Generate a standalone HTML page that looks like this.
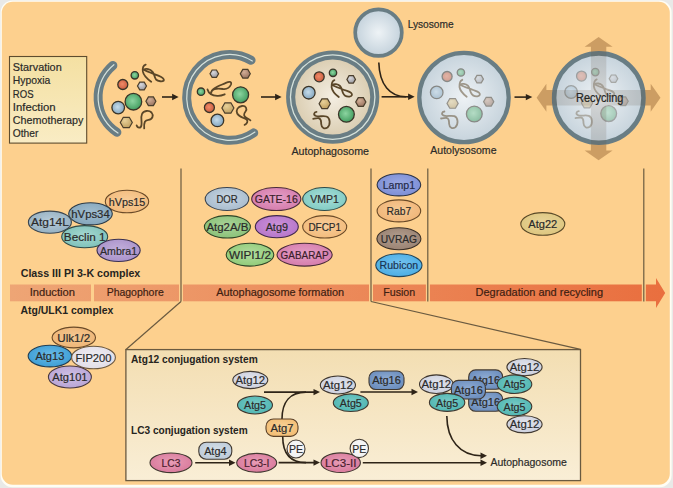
<!DOCTYPE html><html><head><meta charset="utf-8"><style>html,body{margin:0;padding:0;background:#e9e9e7;overflow:hidden}svg{display:block;font-family:"Liberation Sans", sans-serif}</style></head><body><svg width="673" height="488" viewBox="0 0 673 488" font-family='"Liberation Sans", sans-serif'><defs><linearGradient id="stim" x1="0" y1="0" x2="0" y2="1"><stop offset="0" stop-color="#f4e0a2"/><stop offset="1" stop-color="#f9ecc4"/></linearGradient><radialGradient id="g1" cx="45%" cy="45%" r="60%"><stop offset="0" stop-color="#8cd4a0"/><stop offset="1" stop-color="#3e9a5c"/></radialGradient><radialGradient id="g2" cx="45%" cy="45%" r="60%"><stop offset="0" stop-color="#f08a68"/><stop offset="1" stop-color="#c85a3c"/></radialGradient><radialGradient id="g3" cx="38%" cy="32%" r="70%"><stop offset="0" stop-color="#d8d8dc"/><stop offset="1" stop-color="#9a9aa0"/></radialGradient><radialGradient id="g4" cx="45%" cy="45%" r="60%"><stop offset="0" stop-color="#8cd4a0"/><stop offset="1" stop-color="#3e9a5c"/></radialGradient><radialGradient id="g5" cx="45%" cy="45%" r="60%"><stop offset="0" stop-color="#c6dcea"/><stop offset="1" stop-color="#7fa2bc"/></radialGradient><radialGradient id="g6" cx="38%" cy="32%" r="70%"><stop offset="0" stop-color="#d2ae96"/><stop offset="1" stop-color="#9a7460"/></radialGradient><radialGradient id="g7" cx="38%" cy="32%" r="70%"><stop offset="0" stop-color="#e8d098"/><stop offset="1" stop-color="#c0a060"/></radialGradient><radialGradient id="g8" cx="38%" cy="32%" r="70%"><stop offset="0" stop-color="#d8d8dc"/><stop offset="1" stop-color="#9a9aa0"/></radialGradient><radialGradient id="g9" cx="38%" cy="32%" r="70%"><stop offset="0" stop-color="#d2ae96"/><stop offset="1" stop-color="#9a7460"/></radialGradient><radialGradient id="g10" cx="45%" cy="45%" r="60%"><stop offset="0" stop-color="#8cd4a0"/><stop offset="1" stop-color="#3e9a5c"/></radialGradient><radialGradient id="g11" cx="45%" cy="45%" r="60%"><stop offset="0" stop-color="#8cd4a0"/><stop offset="1" stop-color="#3e9a5c"/></radialGradient><radialGradient id="g12" cx="45%" cy="45%" r="60%"><stop offset="0" stop-color="#f08a68"/><stop offset="1" stop-color="#c85a3c"/></radialGradient><radialGradient id="g13" cx="38%" cy="32%" r="70%"><stop offset="0" stop-color="#e8d098"/><stop offset="1" stop-color="#c0a060"/></radialGradient><radialGradient id="g14" cx="45%" cy="45%" r="60%"><stop offset="0" stop-color="#c6dcea"/><stop offset="1" stop-color="#7fa2bc"/></radialGradient><radialGradient id="g15" cx="50%" cy="50%" r="50%"><stop offset="0" stop-color="#f4eee2"/><stop offset="1" stop-color="#dccfb4"/></radialGradient><radialGradient id="g16" cx="45%" cy="45%" r="60%"><stop offset="0" stop-color="#f08a68"/><stop offset="1" stop-color="#c85a3c"/></radialGradient><radialGradient id="g17" cx="45%" cy="45%" r="60%"><stop offset="0" stop-color="#8cd4a0"/><stop offset="1" stop-color="#3e9a5c"/></radialGradient><radialGradient id="g18" cx="38%" cy="32%" r="70%"><stop offset="0" stop-color="#d8d8dc"/><stop offset="1" stop-color="#9a9aa0"/></radialGradient><radialGradient id="g19" cx="45%" cy="45%" r="60%"><stop offset="0" stop-color="#c6dcea"/><stop offset="1" stop-color="#7fa2bc"/></radialGradient><radialGradient id="g20" cx="38%" cy="32%" r="70%"><stop offset="0" stop-color="#e8d098"/><stop offset="1" stop-color="#c0a060"/></radialGradient><radialGradient id="g21" cx="38%" cy="32%" r="70%"><stop offset="0" stop-color="#d2ae96"/><stop offset="1" stop-color="#9a7460"/></radialGradient><radialGradient id="g22" cx="45%" cy="45%" r="60%"><stop offset="0" stop-color="#8cd4a0"/><stop offset="1" stop-color="#3e9a5c"/></radialGradient><radialGradient id="g23" cx="50%" cy="50%" r="50%"><stop offset="0" stop-color="#eef3f6"/><stop offset="1" stop-color="#c4d2dc"/></radialGradient><radialGradient id="g24" cx="50%" cy="50%" r="50%"><stop offset="0" stop-color="#eef2f5"/><stop offset="1" stop-color="#c6d3dc"/></radialGradient><radialGradient id="g25" cx="45%" cy="45%" r="60%"><stop offset="0" stop-color="#f08a68"/><stop offset="1" stop-color="#c85a3c"/></radialGradient><radialGradient id="g26" cx="45%" cy="45%" r="60%"><stop offset="0" stop-color="#8cd4a0"/><stop offset="1" stop-color="#3e9a5c"/></radialGradient><radialGradient id="g27" cx="38%" cy="32%" r="70%"><stop offset="0" stop-color="#d8d8dc"/><stop offset="1" stop-color="#9a9aa0"/></radialGradient><radialGradient id="g28" cx="45%" cy="45%" r="60%"><stop offset="0" stop-color="#c6dcea"/><stop offset="1" stop-color="#7fa2bc"/></radialGradient><radialGradient id="g29" cx="38%" cy="32%" r="70%"><stop offset="0" stop-color="#e8d098"/><stop offset="1" stop-color="#c0a060"/></radialGradient><radialGradient id="g30" cx="38%" cy="32%" r="70%"><stop offset="0" stop-color="#d2ae96"/><stop offset="1" stop-color="#9a7460"/></radialGradient><radialGradient id="g31" cx="45%" cy="45%" r="60%"><stop offset="0" stop-color="#8cd4a0"/><stop offset="1" stop-color="#3e9a5c"/></radialGradient><radialGradient id="g32" cx="50%" cy="50%" r="50%"><stop offset="0" stop-color="#eef2f5"/><stop offset="1" stop-color="#c6d3dc"/></radialGradient><radialGradient id="g33" cx="45%" cy="45%" r="60%"><stop offset="0" stop-color="#f08a68"/><stop offset="1" stop-color="#c85a3c"/></radialGradient><radialGradient id="g34" cx="45%" cy="45%" r="60%"><stop offset="0" stop-color="#8cd4a0"/><stop offset="1" stop-color="#3e9a5c"/></radialGradient><radialGradient id="g35" cx="38%" cy="32%" r="70%"><stop offset="0" stop-color="#d8d8dc"/><stop offset="1" stop-color="#9a9aa0"/></radialGradient><radialGradient id="g36" cx="45%" cy="45%" r="60%"><stop offset="0" stop-color="#c6dcea"/><stop offset="1" stop-color="#7fa2bc"/></radialGradient><radialGradient id="g37" cx="38%" cy="32%" r="70%"><stop offset="0" stop-color="#e8d098"/><stop offset="1" stop-color="#c0a060"/></radialGradient><radialGradient id="g38" cx="38%" cy="32%" r="70%"><stop offset="0" stop-color="#d2ae96"/><stop offset="1" stop-color="#9a7460"/></radialGradient><radialGradient id="g39" cx="45%" cy="45%" r="60%"><stop offset="0" stop-color="#8cd4a0"/><stop offset="1" stop-color="#3e9a5c"/></radialGradient><clipPath id="inC"><circle cx="598.8" cy="98.1" r="47"/></clipPath><mask id="outC" maskUnits="userSpaceOnUse" x="0" y="0" width="673" height="488"><rect x="0" y="0" width="673" height="488" fill="#fff"/><circle cx="598.8" cy="98.1" r="47" fill="#000"/></mask><linearGradient id="band" x1="0" y1="0" x2="673" y2="0" gradientUnits="userSpaceOnUse"><stop offset="0" stop-color="#eea676"/><stop offset="1" stop-color="#e96e3e"/></linearGradient><linearGradient id="boxg" x1="0" y1="0" x2="0" y2="1"><stop offset="0" stop-color="#f3deb2"/><stop offset="1" stop-color="#f9eed6"/></linearGradient><radialGradient id="g40" cx="50%" cy="45%" r="60%"><stop offset="0" stop-color="#f8cd99"/><stop offset="1" stop-color="#f2ba7a"/></radialGradient><radialGradient id="g41" cx="50%" cy="45%" r="60%"><stop offset="0" stop-color="#a2bed0"/><stop offset="1" stop-color="#82a4ba"/></radialGradient><radialGradient id="g42" cx="50%" cy="45%" r="60%"><stop offset="0" stop-color="#b8ccd9"/><stop offset="1" stop-color="#92aec0"/></radialGradient><radialGradient id="g43" cx="50%" cy="45%" r="60%"><stop offset="0" stop-color="#a6d8d1"/><stop offset="1" stop-color="#7cc0b8"/></radialGradient><radialGradient id="g44" cx="50%" cy="45%" r="60%"><stop offset="0" stop-color="#c2afdb"/><stop offset="1" stop-color="#a890c8"/></radialGradient><radialGradient id="g45" cx="50%" cy="45%" r="60%"><stop offset="0" stop-color="#f5c892"/><stop offset="1" stop-color="#eeb474"/></radialGradient><radialGradient id="g46" cx="50%" cy="45%" r="60%"><stop offset="0" stop-color="#6abae6"/><stop offset="1" stop-color="#3a9cd4"/></radialGradient><radialGradient id="g47" cx="50%" cy="45%" r="60%"><stop offset="0" stop-color="#f0eef3"/><stop offset="1" stop-color="#e0dce6"/></radialGradient><radialGradient id="g48" cx="50%" cy="45%" r="60%"><stop offset="0" stop-color="#d0c1e5"/><stop offset="1" stop-color="#b6a2d4"/></radialGradient><radialGradient id="g49" cx="50%" cy="45%" r="60%"><stop offset="0" stop-color="#c8d6e3"/><stop offset="1" stop-color="#a6bacc"/></radialGradient><radialGradient id="g50" cx="50%" cy="45%" r="60%"><stop offset="0" stop-color="#e59fc6"/><stop offset="1" stop-color="#d47aaa"/></radialGradient><radialGradient id="g51" cx="50%" cy="45%" r="60%"><stop offset="0" stop-color="#a9ded8"/><stop offset="1" stop-color="#7ecac2"/></radialGradient><radialGradient id="g52" cx="50%" cy="45%" r="60%"><stop offset="0" stop-color="#aad499"/><stop offset="1" stop-color="#88c076"/></radialGradient><radialGradient id="g53" cx="50%" cy="45%" r="60%"><stop offset="0" stop-color="#cc92da"/><stop offset="1" stop-color="#b474c8"/></radialGradient><radialGradient id="g54" cx="50%" cy="45%" r="60%"><stop offset="0" stop-color="#f8cd99"/><stop offset="1" stop-color="#f2ba7a"/></radialGradient><radialGradient id="g55" cx="50%" cy="45%" r="60%"><stop offset="0" stop-color="#b2dc9f"/><stop offset="1" stop-color="#8eca76"/></radialGradient><radialGradient id="g56" cx="50%" cy="45%" r="60%"><stop offset="0" stop-color="#e59fc6"/><stop offset="1" stop-color="#d47aaa"/></radialGradient><radialGradient id="g57" cx="50%" cy="45%" r="60%"><stop offset="0" stop-color="#9caae4"/><stop offset="1" stop-color="#7a8cd4"/></radialGradient><radialGradient id="g58" cx="50%" cy="45%" r="60%"><stop offset="0" stop-color="#f6ca96"/><stop offset="1" stop-color="#f0b476"/></radialGradient><radialGradient id="g59" cx="50%" cy="45%" r="60%"><stop offset="0" stop-color="#b29e8f"/><stop offset="1" stop-color="#988070"/></radialGradient><radialGradient id="g60" cx="50%" cy="45%" r="60%"><stop offset="0" stop-color="#77c4ef"/><stop offset="1" stop-color="#48acE4"/></radialGradient><radialGradient id="g61" cx="50%" cy="45%" r="60%"><stop offset="0" stop-color="#e9d69b"/><stop offset="1" stop-color="#dcc47c"/></radialGradient><radialGradient id="g62" cx="50%" cy="45%" r="60%"><stop offset="0" stop-color="#e3e5ed"/><stop offset="1" stop-color="#cacedc"/></radialGradient><radialGradient id="g63" cx="50%" cy="45%" r="60%"><stop offset="0" stop-color="#7acbc7"/><stop offset="1" stop-color="#4cb4b0"/></radialGradient><radialGradient id="g64" cx="50%" cy="45%" r="60%"><stop offset="0" stop-color="#f9d297"/><stop offset="1" stop-color="#f2bc72"/></radialGradient><radialGradient id="g65" cx="50%" cy="45%" r="60%"><stop offset="0" stop-color="#f9f9f9"/><stop offset="1" stop-color="#f0f0f0"/></radialGradient><radialGradient id="g66" cx="50%" cy="45%" r="60%"><stop offset="0" stop-color="#e3e5ed"/><stop offset="1" stop-color="#cacedc"/></radialGradient><radialGradient id="g67" cx="50%" cy="45%" r="60%"><stop offset="0" stop-color="#7acbc7"/><stop offset="1" stop-color="#4cb4b0"/></radialGradient><radialGradient id="g68" cx="50%" cy="45%" r="60%"><stop offset="0" stop-color="#8facd3"/><stop offset="1" stop-color="#6a8cbc"/></radialGradient><radialGradient id="g69" cx="50%" cy="45%" r="60%"><stop offset="0" stop-color="#8facd3"/><stop offset="1" stop-color="#6a8cbc"/></radialGradient><radialGradient id="g70" cx="50%" cy="45%" r="60%"><stop offset="0" stop-color="#8facd3"/><stop offset="1" stop-color="#6a8cbc"/></radialGradient><radialGradient id="g71" cx="50%" cy="45%" r="60%"><stop offset="0" stop-color="#e3e5ed"/><stop offset="1" stop-color="#cacedc"/></radialGradient><radialGradient id="g72" cx="50%" cy="45%" r="60%"><stop offset="0" stop-color="#8facd3"/><stop offset="1" stop-color="#6a8cbc"/></radialGradient><radialGradient id="g73" cx="50%" cy="45%" r="60%"><stop offset="0" stop-color="#7acbc7"/><stop offset="1" stop-color="#4cb4b0"/></radialGradient><radialGradient id="g74" cx="50%" cy="45%" r="60%"><stop offset="0" stop-color="#e3e5ed"/><stop offset="1" stop-color="#cacedc"/></radialGradient><radialGradient id="g75" cx="50%" cy="45%" r="60%"><stop offset="0" stop-color="#7acbc7"/><stop offset="1" stop-color="#4cb4b0"/></radialGradient><radialGradient id="g76" cx="50%" cy="45%" r="60%"><stop offset="0" stop-color="#e3e5ed"/><stop offset="1" stop-color="#cacedc"/></radialGradient><radialGradient id="g77" cx="50%" cy="45%" r="60%"><stop offset="0" stop-color="#7acbc7"/><stop offset="1" stop-color="#4cb4b0"/></radialGradient><radialGradient id="g78" cx="50%" cy="45%" r="60%"><stop offset="0" stop-color="#e89db7"/><stop offset="1" stop-color="#d8789a"/></radialGradient><radialGradient id="g79" cx="50%" cy="45%" r="60%"><stop offset="0" stop-color="#d6e0e9"/><stop offset="1" stop-color="#bccad8"/></radialGradient><radialGradient id="g80" cx="50%" cy="45%" r="60%"><stop offset="0" stop-color="#e89db7"/><stop offset="1" stop-color="#d8789a"/></radialGradient><radialGradient id="g81" cx="50%" cy="45%" r="60%"><stop offset="0" stop-color="#e89db7"/><stop offset="1" stop-color="#d8789a"/></radialGradient><radialGradient id="g82" cx="50%" cy="45%" r="60%"><stop offset="0" stop-color="#f9f9f9"/><stop offset="1" stop-color="#f0f0f0"/></radialGradient></defs><rect x="0" y="0" width="673" height="488" fill="#e9e9e7"/>
<rect x="0.6" y="0.6" width="671" height="486.6" rx="12" fill="#fffdf4"/>
<rect x="1.8" y="1.8" width="668" height="483" rx="11" fill="#fdd08e"/>
<rect x="9.5" y="56.5" width="77.2" height="86.6" fill="url(#stim)" stroke="#5e4c2e" stroke-width="1.1"/>
<text x="12.8" y="71" font-size="11.5" text-anchor="start" font-weight="normal" fill="#2a2a28" textLength="48.9" lengthAdjust="spacingAndGlyphs" stroke="#2a2a28" stroke-width="0.2">Starvation</text>
<text x="12.8" y="84.25" font-size="11.5" text-anchor="start" font-weight="normal" fill="#2a2a28" textLength="37.6" lengthAdjust="spacingAndGlyphs" stroke="#2a2a28" stroke-width="0.2">Hypoxia</text>
<text x="12.8" y="97.5" font-size="11.5" text-anchor="start" font-weight="normal" fill="#2a2a28" textLength="20.7" lengthAdjust="spacingAndGlyphs" stroke="#2a2a28" stroke-width="0.2">ROS</text>
<text x="12.8" y="110.75" font-size="11.5" text-anchor="start" font-weight="normal" fill="#2a2a28" textLength="42.8" lengthAdjust="spacingAndGlyphs" stroke="#2a2a28" stroke-width="0.2">Infection</text>
<text x="12.8" y="124" font-size="11.5" text-anchor="start" font-weight="normal" fill="#2a2a28" textLength="70.5" lengthAdjust="spacingAndGlyphs" stroke="#2a2a28" stroke-width="0.2">Chemotherapy</text>
<text x="12.8" y="137.25" font-size="11.5" text-anchor="start" font-weight="normal" fill="#2a2a28" textLength="25.6" lengthAdjust="spacingAndGlyphs" stroke="#2a2a28" stroke-width="0.2">Other</text>
<path d="M112.86,65.52 A41.8,41.8 0 0 0 116.89,132.3" fill="none" stroke="#697d84" stroke-width="9" stroke-linecap="round"/>
<path d="M113.88,64.69 A41.8,41.8 0 0 0 118,133" fill="none" stroke="#d6e2dc" stroke-width="1.2" stroke-linecap="round"/>
<circle cx="134.8" cy="75.3" r="3.7" fill="url(#g1)" stroke="#3a3428" stroke-width="1.3" opacity="1"/>
<circle cx="122.8" cy="84.5" r="5" fill="url(#g2)" stroke="#3a3428" stroke-width="1.3" opacity="1"/>
<polygon points="146.5,86 144.25,89.9 139.75,89.9 137.5,86 139.75,82.1 144.25,82.1" fill="url(#g3)" stroke="#4a3e2c" stroke-width="1.2" opacity="1"/>
<circle cx="133.4" cy="101.7" r="8.3" fill="url(#g4)" stroke="#3a3428" stroke-width="1.3" opacity="1"/>
<circle cx="118.2" cy="107.6" r="6.3" fill="url(#g5)" stroke="#3a3428" stroke-width="1.3" opacity="1"/>
<polygon points="155.9,101.3 153.4,105.63 148.4,105.63 145.9,101.3 148.4,96.97 153.4,96.97" fill="url(#g6)" stroke="#4a3e2c" stroke-width="1.2" opacity="1"/>
<polygon points="132.3,122.5 129.3,127.7 123.3,127.7 120.3,122.5 123.3,117.3 129.3,117.3" fill="url(#g7)" stroke="#4a3e2c" stroke-width="1.2" opacity="1"/>
<path d="M145.7,64.6 C143,65.5 142.5,69 142.9,71.7 C143.5,75 148,79.5 151.2,81.8" fill="none" stroke="#5a4628" stroke-width="1.8" stroke-linecap="round" stroke-linejoin="round" opacity="1"/>
<path d="M143.8,69.8 C146,68.2 150,69 152.6,71.8 C154.5,74 154.3,77.5 156,79.5 C158,81.5 162.5,81.8 163.8,80.5 C164.5,78.5 161,76.8 158.3,75.7 C153,73.6 147,71.6 143.8,69.8" fill="none" stroke="#5a4628" stroke-width="1.8" stroke-linecap="round" stroke-linejoin="round" opacity="1"/>
<path d="M136.6,125.3 C137.5,128.5 141,128.5 141.5,125 C142,121 140.5,117.5 142,114 C143.5,110.5 149,110 151.5,112.5 C154,115.5 152.5,119.5 148.5,119.8 C145,120 143.8,122 144.2,128.4" fill="none" stroke="#5a4628" stroke-width="1.8" stroke-linecap="round" stroke-linejoin="round" opacity="1"/>
<line x1="162" y1="97" x2="173.1" y2="97" stroke="#2e2418" stroke-width="1.6"/>
<path d="M178.6,97 L172.1,100.2 L172.1,93.8 Z" fill="#2e2418"/>
<path d="M251.05,60.25 A42.9,42.9 0 1 0 253.71,132.88" fill="none" stroke="#697d84" stroke-width="9" stroke-linecap="round"/>
<path d="M252.33,61.02 A42.9,42.9 0 1 0 254.94,132.02" fill="none" stroke="#d6e2dc" stroke-width="1.2" stroke-linecap="round"/>
<polygon points="218.6,73.7 216.45,77.42 212.15,77.42 210,73.7 212.15,69.98 216.45,69.98" fill="url(#g8)" stroke="#4a3e2c" stroke-width="1.2" opacity="1"/>
<polygon points="250.3,73.7 247.8,78.03 242.8,78.03 240.3,73.7 242.8,69.37 247.8,69.37" fill="url(#g9)" stroke="#4a3e2c" stroke-width="1.2" opacity="1"/>
<circle cx="201" cy="91.7" r="3.7" fill="url(#g10)" stroke="#3a3428" stroke-width="1.3" opacity="1"/>
<path d="M207.5,89.4 C208.5,93 212,95.5 217.3,95.8 C220,96 223,95 224.7,94.3" fill="none" stroke="#5a4628" stroke-width="1.8" stroke-linecap="round" stroke-linejoin="round" opacity="1"/>
<path d="M210.8,93.5 C211.5,88 219,86 225.9,82.9 C229,81.5 232,81.3 231,84.5 C229.5,88 226,89.3 223,89 C219,88.5 214,88.3 211.8,90.6" fill="none" stroke="#5a4628" stroke-width="1.8" stroke-linecap="round" stroke-linejoin="round" opacity="1"/>
<circle cx="240.6" cy="94.8" r="8" fill="url(#g11)" stroke="#3a3428" stroke-width="1.3" opacity="1"/>
<circle cx="209.4" cy="107.5" r="5" fill="url(#g12)" stroke="#3a3428" stroke-width="1.3" opacity="1"/>
<polygon points="233.9,108 230.9,113.2 224.9,113.2 221.9,108 224.9,102.8 230.9,102.8" fill="url(#g13)" stroke="#4a3e2c" stroke-width="1.2" opacity="1"/>
<path d="M244.6,124.9 C247,124 248.5,121 246.5,119.5 C244,117.8 239,117 237.2,113.5 C235.5,110 238,106.5 242,106 C246,105.5 247.5,109 245.5,111.5 C243.5,114 243.5,116.5 246.4,117.8 C248,118.8 249.5,119.5 250.4,120.3" fill="none" stroke="#5a4628" stroke-width="1.8" stroke-linecap="round" stroke-linejoin="round" opacity="1"/>
<circle cx="217.4" cy="120.4" r="6.3" fill="url(#g14)" stroke="#3a3428" stroke-width="1.3" opacity="1"/>
<line x1="261" y1="97" x2="276.1" y2="97" stroke="#2e2418" stroke-width="1.6"/>
<path d="M281.6,97 L275.1,100.2 L275.1,93.8 Z" fill="#2e2418"/>
<circle cx="332.7" cy="97.1" r="46.6" fill="#697d84"/>
<circle cx="332.7" cy="97.1" r="42.9" fill="#d6e2dc"/>
<circle cx="332.7" cy="97.1" r="41.6" fill="#697d84"/>
<circle cx="332.7" cy="97.1" r="37.5" fill="url(#g15)"/>
<g transform="translate(0,0)" opacity="1.0">
<circle cx="319.2" cy="76.8" r="5" fill="url(#g16)" stroke="#3a3428" stroke-width="1.3" opacity="1"/>
<circle cx="333" cy="72.8" r="3.7" fill="url(#g17)" stroke="#3a3428" stroke-width="1.3" opacity="1"/>
<polygon points="355.5,79.4 353.35,83.12 349.05,83.12 346.9,79.4 349.05,75.68 353.35,75.68" fill="url(#g18)" stroke="#4a3e2c" stroke-width="1.2" opacity="1"/>
<path d="M334.4,80.1 C332,81 331.5,85 331.6,87.3 C332,90 335.5,94.5 338.8,97" fill="none" stroke="#5a4628" stroke-width="1.8" stroke-linecap="round" stroke-linejoin="round" opacity="1"/>
<path d="M332.1,85 C334,83.5 338,84 340,86 C342,88 342,91 343,93 C344,95.5 347,96.8 349.5,96.6 C352,96.3 352.8,94.5 351.1,92.9 C349.5,91.5 347,91 345.4,90.3 C342,89 337,87.5 332.1,85" fill="none" stroke="#5a4628" stroke-width="1.8" stroke-linecap="round" stroke-linejoin="round" opacity="1"/>
<circle cx="308.8" cy="92.7" r="6.3" fill="url(#g19)" stroke="#3a3428" stroke-width="1.3" opacity="1"/>
<polygon points="330.3,103.7 327.5,108.55 321.9,108.55 319.1,103.7 321.9,98.85 327.5,98.85" fill="url(#g20)" stroke="#4a3e2c" stroke-width="1.2" opacity="1"/>
<polygon points="365.9,102 363.35,106.42 358.25,106.42 355.7,102 358.25,97.58 363.35,97.58" fill="url(#g21)" stroke="#4a3e2c" stroke-width="1.2" opacity="1"/>
<circle cx="346.4" cy="114.3" r="7.9" fill="url(#g22)" stroke="#3a3428" stroke-width="1.3" opacity="1"/>
<path d="M316.5,111.8 C314,112 313,115 316,116 C319,117 323,115.5 326.5,116.5 C330.5,118 330.5,125 327.5,127.5 C324.5,129.5 321.5,128 321.2,124 C321,121 321.5,119 319,118.3 C317,118 315,118.5 313.2,118.8" fill="none" stroke="#5a4628" stroke-width="1.8" stroke-linecap="round" stroke-linejoin="round" opacity="1"/>
</g>
<text x="330.2" y="155" font-size="11.5" text-anchor="middle" font-weight="normal" fill="#2a2a28" textLength="77.5" lengthAdjust="spacingAndGlyphs" stroke="#2a2a28" stroke-width="0.2">Autophagosome</text>
<circle cx="378.5" cy="32.6" r="23.3" fill="url(#g23)" stroke="#697d84" stroke-width="3.7"/>
<text x="407.7" y="27.9" font-size="11.5" text-anchor="start" font-weight="normal" fill="#2a2a28" textLength="45.9" lengthAdjust="spacingAndGlyphs" stroke="#2a2a28" stroke-width="0.2">Lysosome</text>
<path d="M378.8,62.5 C379.5,85 390,96.8 406,96.8" fill="none" stroke="#2e2418" stroke-width="1.6"/>
<line x1="381.6" y1="96.8" x2="409.1" y2="96.8" stroke="#2e2418" stroke-width="1.6"/>
<path d="M414.6,96.8 L408.1,100 L408.1,93.6 Z" fill="#2e2418"/>
<circle cx="464" cy="97.5" r="44.7" fill="url(#g24)" stroke="#697d84" stroke-width="4.3"/>
<g transform="translate(127.9,-0.3)" opacity="0.5">
<circle cx="319.2" cy="76.8" r="5" fill="url(#g25)" stroke="#3a3428" stroke-width="1.3" opacity="1"/>
<circle cx="333" cy="72.8" r="3.7" fill="url(#g26)" stroke="#3a3428" stroke-width="1.3" opacity="1"/>
<polygon points="355.5,79.4 353.35,83.12 349.05,83.12 346.9,79.4 349.05,75.68 353.35,75.68" fill="url(#g27)" stroke="#4a3e2c" stroke-width="1.2" opacity="1"/>
<path d="M334.4,80.1 C332,81 331.5,85 331.6,87.3 C332,90 335.5,94.5 338.8,97" fill="none" stroke="#5a4628" stroke-width="1.8" stroke-linecap="round" stroke-linejoin="round" opacity="1"/>
<path d="M332.1,85 C334,83.5 338,84 340,86 C342,88 342,91 343,93 C344,95.5 347,96.8 349.5,96.6 C352,96.3 352.8,94.5 351.1,92.9 C349.5,91.5 347,91 345.4,90.3 C342,89 337,87.5 332.1,85" fill="none" stroke="#5a4628" stroke-width="1.8" stroke-linecap="round" stroke-linejoin="round" opacity="1"/>
<circle cx="308.8" cy="92.7" r="6.3" fill="url(#g28)" stroke="#3a3428" stroke-width="1.3" opacity="1"/>
<polygon points="330.3,103.7 327.5,108.55 321.9,108.55 319.1,103.7 321.9,98.85 327.5,98.85" fill="url(#g29)" stroke="#4a3e2c" stroke-width="1.2" opacity="1"/>
<polygon points="365.9,102 363.35,106.42 358.25,106.42 355.7,102 358.25,97.58 363.35,97.58" fill="url(#g30)" stroke="#4a3e2c" stroke-width="1.2" opacity="1"/>
<circle cx="346.4" cy="114.3" r="7.9" fill="url(#g31)" stroke="#3a3428" stroke-width="1.3" opacity="1"/>
<path d="M316.5,111.8 C314,112 313,115 316,116 C319,117 323,115.5 326.5,116.5 C330.5,118 330.5,125 327.5,127.5 C324.5,129.5 321.5,128 321.2,124 C321,121 321.5,119 319,118.3 C317,118 315,118.5 313.2,118.8" fill="none" stroke="#5a4628" stroke-width="1.8" stroke-linecap="round" stroke-linejoin="round" opacity="1"/>
</g>
<text x="463.4" y="154.2" font-size="11.5" text-anchor="middle" font-weight="normal" fill="#2a2a28" textLength="66.2" lengthAdjust="spacingAndGlyphs" stroke="#2a2a28" stroke-width="0.2">Autolysosome</text>
<line x1="514.5" y1="97.1" x2="526.8" y2="97.1" stroke="#2e2418" stroke-width="1.6"/>
<path d="M532.3,97.1 L525.8,100.3 L525.8,93.9 Z" fill="#2e2418"/>
<circle cx="598.8" cy="98.1" r="44.7" fill="url(#g32)" stroke="#697d84" stroke-width="4.6"/>
<g transform="translate(262.3,-0.7)" opacity="0.35">
<circle cx="319.2" cy="76.8" r="5" fill="url(#g33)" stroke="#3a3428" stroke-width="1.3" opacity="1"/>
<circle cx="333" cy="72.8" r="3.7" fill="url(#g34)" stroke="#3a3428" stroke-width="1.3" opacity="1"/>
<polygon points="355.5,79.4 353.35,83.12 349.05,83.12 346.9,79.4 349.05,75.68 353.35,75.68" fill="url(#g35)" stroke="#4a3e2c" stroke-width="1.2" opacity="1"/>
<path d="M334.4,80.1 C332,81 331.5,85 331.6,87.3 C332,90 335.5,94.5 338.8,97" fill="none" stroke="#5a4628" stroke-width="1.8" stroke-linecap="round" stroke-linejoin="round" opacity="1"/>
<path d="M332.1,85 C334,83.5 338,84 340,86 C342,88 342,91 343,93 C344,95.5 347,96.8 349.5,96.6 C352,96.3 352.8,94.5 351.1,92.9 C349.5,91.5 347,91 345.4,90.3 C342,89 337,87.5 332.1,85" fill="none" stroke="#5a4628" stroke-width="1.8" stroke-linecap="round" stroke-linejoin="round" opacity="1"/>
<circle cx="308.8" cy="92.7" r="6.3" fill="url(#g36)" stroke="#3a3428" stroke-width="1.3" opacity="1"/>
<polygon points="330.3,103.7 327.5,108.55 321.9,108.55 319.1,103.7 321.9,98.85 327.5,98.85" fill="url(#g37)" stroke="#4a3e2c" stroke-width="1.2" opacity="1"/>
<polygon points="365.9,102 363.35,106.42 358.25,106.42 355.7,102 358.25,97.58 363.35,97.58" fill="url(#g38)" stroke="#4a3e2c" stroke-width="1.2" opacity="1"/>
<circle cx="346.4" cy="114.3" r="7.9" fill="url(#g39)" stroke="#3a3428" stroke-width="1.3" opacity="1"/>
<path d="M316.5,111.8 C314,112 313,115 316,116 C319,117 323,115.5 326.5,116.5 C330.5,118 330.5,125 327.5,127.5 C324.5,129.5 321.5,128 321.2,124 C321,121 321.5,119 319,118.3 C317,118 315,118.5 313.2,118.8" fill="none" stroke="#5a4628" stroke-width="1.8" stroke-linecap="round" stroke-linejoin="round" opacity="1"/>
</g>
<path d="M590.9,90.1 L590.9,46.8 L584.6,46.8 L598.6,37 L612.6,46.8 L606.3000000000001,46.8 L606.3000000000001,90.1 L650.7,90.1 L650.7,83.8 L660.5,97.8 L650.7,111.8 L650.7,105.5 L606.3000000000001,105.5 L606.3000000000001,150.5 L612.6,150.5 L598.6,160.3 L584.6,150.5 L590.9,150.5 L590.9,105.5 L546.4,105.5 L546.4,111.8 L536.6,97.8 L546.4,83.8 L546.4,90.1 Z" fill="#784619" opacity="0.36" mask="url(#outC)"/>
<path d="M590.9,90.1 L590.9,46.8 L584.6,46.8 L598.6,37 L612.6,46.8 L606.3000000000001,46.8 L606.3000000000001,90.1 L650.7,90.1 L650.7,83.8 L660.5,97.8 L650.7,111.8 L650.7,105.5 L606.3000000000001,105.5 L606.3000000000001,150.5 L612.6,150.5 L598.6,160.3 L584.6,150.5 L590.9,150.5 L590.9,105.5 L546.4,105.5 L546.4,111.8 L536.6,97.8 L546.4,83.8 L546.4,90.1 Z" fill="#5a4632" opacity="0.15" clip-path="url(#inC)"/>
<text x="599.7" y="101.6" font-size="12" text-anchor="middle" font-weight="normal" fill="#262624" textLength="47.4" lengthAdjust="spacingAndGlyphs" stroke="#262624" stroke-width="0.2">Recycling</text>
<line x1="181" y1="168.5" x2="181" y2="301.5" stroke="#6a5a40" stroke-width="1.2"/>
<line x1="371" y1="168.5" x2="371" y2="301.5" stroke="#6a5a40" stroke-width="1.2"/>
<line x1="427.8" y1="168.5" x2="427.8" y2="301.5" stroke="#6a5a40" stroke-width="1.2"/>
<line x1="643.8" y1="168.5" x2="643.8" y2="301.5" stroke="#6a5a40" stroke-width="1.2"/>
<rect x="10" y="284.5" width="81" height="16.8" fill="url(#band)"/>
<rect x="94" y="284.5" width="85" height="16.8" fill="url(#band)"/>
<rect x="183" y="284.5" width="186" height="16.8" fill="url(#band)"/>
<rect x="373" y="284.5" width="52.9" height="16.8" fill="url(#band)"/>
<rect x="429.9" y="284.5" width="211.9" height="16.8" fill="url(#band)"/>
<path d="M645.8,284.5 L656,284.5 L656,278 L665.2,293 L656,308 L656,301.3 L645.8,301.3 Z" fill="url(#band)"/>
<text x="52.3" y="295.7" font-size="11.5" text-anchor="middle" font-weight="normal" fill="#3e1e12" textLength="45.3" lengthAdjust="spacingAndGlyphs" stroke="#3e1e12" stroke-width="0.2">Induction</text>
<text x="135.2" y="295.9" font-size="11.5" text-anchor="middle" font-weight="normal" fill="#3e1e12" textLength="57.1" lengthAdjust="spacingAndGlyphs" stroke="#3e1e12" stroke-width="0.2">Phagophore</text>
<text x="280.1" y="295.9" font-size="11.5" text-anchor="middle" font-weight="normal" fill="#3e1e12" textLength="127.9" lengthAdjust="spacingAndGlyphs" stroke="#3e1e12" stroke-width="0.2">Autophagosome formation</text>
<text x="399.2" y="295.7" font-size="11.5" text-anchor="middle" font-weight="normal" fill="#3e1e12" textLength="31.9" lengthAdjust="spacingAndGlyphs" stroke="#3e1e12" stroke-width="0.2">Fusion</text>
<text x="539.3" y="296" font-size="11.5" text-anchor="middle" font-weight="normal" fill="#3e1e12" textLength="127.4" lengthAdjust="spacingAndGlyphs" stroke="#3e1e12" stroke-width="0.2">Degradation and recycling</text>
<path d="M181,301.5 L125.7,349.8" stroke="#6a5a40" stroke-width="1.2" fill="none"/>
<path d="M371,301.5 L580.5,349.4" stroke="#6a5a40" stroke-width="1.2" fill="none"/>
<rect x="125.9" y="349.6" width="454.6" height="131" fill="url(#boxg)" stroke="#6a5a40" stroke-width="1.3"/>
<ellipse cx="127" cy="201.5" rx="21.7" ry="11.3" fill="url(#g40)" stroke="#6a4a28" stroke-width="1.1"/>
<text x="127" y="205.6" font-size="11.5" text-anchor="middle" font-weight="normal" fill="#2a2a2a" textLength="36.5" lengthAdjust="spacingAndGlyphs" stroke="#2a2a2a" stroke-width="0.2">hVps15</text>
<ellipse cx="90.5" cy="213.8" rx="21.8" ry="11.1" fill="url(#g41)" stroke="#2c3a46" stroke-width="1.1"/>
<text x="90.5" y="217.9" font-size="11.5" text-anchor="middle" font-weight="normal" fill="#2a2a2a" textLength="38.4" lengthAdjust="spacingAndGlyphs" stroke="#2a2a2a" stroke-width="0.2">hVps34</text>
<ellipse cx="49.9" cy="222.2" rx="21.5" ry="11.1" fill="url(#g42)" stroke="#3a4650" stroke-width="1.1"/>
<text x="49.9" y="226.3" font-size="11.5" text-anchor="middle" font-weight="normal" fill="#2a2a2a" textLength="38" lengthAdjust="spacingAndGlyphs" stroke="#2a2a2a" stroke-width="0.2">Atg14L</text>
<ellipse cx="84.7" cy="236.7" rx="23" ry="11.1" fill="url(#g43)" stroke="#2f4a48" stroke-width="1.1"/>
<text x="84.7" y="240.8" font-size="11.5" text-anchor="middle" font-weight="normal" fill="#2a2a2a" textLength="41.7" lengthAdjust="spacingAndGlyphs" stroke="#2a2a2a" stroke-width="0.2">Beclin 1</text>
<ellipse cx="118.6" cy="250.4" rx="21.6" ry="11.1" fill="url(#g44)" stroke="#3a3050" stroke-width="1.1"/>
<text x="118.6" y="254.5" font-size="11.5" text-anchor="middle" font-weight="normal" fill="#2a2a2a" textLength="37.1" lengthAdjust="spacingAndGlyphs" stroke="#2a2a2a" stroke-width="0.2">Ambra1</text>
<text x="20.7" y="276.6" font-size="11.5" text-anchor="start" font-weight="bold" fill="#262420" textLength="119.6" lengthAdjust="spacingAndGlyphs">Class III PI 3-K complex</text>
<text x="20.5" y="313.6" font-size="11.5" text-anchor="start" font-weight="bold" fill="#262420" textLength="92.8" lengthAdjust="spacingAndGlyphs">Atg/ULK1 complex</text>
<ellipse cx="73.8" cy="337.5" rx="21.7" ry="10.4" fill="url(#g45)" stroke="#6a4a28" stroke-width="1.1"/>
<text x="73.8" y="341.6" font-size="11.5" text-anchor="middle" font-weight="normal" fill="#2a2a2a" textLength="33" lengthAdjust="spacingAndGlyphs" stroke="#2a2a2a" stroke-width="0.2">Ulk1/2</text>
<ellipse cx="49.9" cy="356.1" rx="21.75" ry="10.8" fill="url(#g46)" stroke="#213e54" stroke-width="1.1"/>
<text x="49.9" y="360.2" font-size="11.5" text-anchor="middle" font-weight="normal" fill="#2a2a2a" textLength="29" lengthAdjust="spacingAndGlyphs" stroke="#2a2a2a" stroke-width="0.2">Atg13</text>
<ellipse cx="93.5" cy="357.5" rx="21.9" ry="11.2" fill="url(#g47)" stroke="#6a5840" stroke-width="1.1"/>
<text x="93.5" y="361.6" font-size="11.5" text-anchor="middle" font-weight="normal" fill="#2a2a2a" textLength="36" lengthAdjust="spacingAndGlyphs" stroke="#2a2a2a" stroke-width="0.2">FIP200</text>
<ellipse cx="69.9" cy="377" rx="21.5" ry="11" fill="url(#g48)" stroke="#4a3a40" stroke-width="1.1"/>
<text x="69.9" y="381.1" font-size="11.5" text-anchor="middle" font-weight="normal" fill="#2a2a2a" textLength="35.3" lengthAdjust="spacingAndGlyphs" stroke="#2a2a2a" stroke-width="0.2">Atg101</text>
<ellipse cx="227" cy="199" rx="21.8" ry="11.5" fill="url(#g49)" stroke="#3a4450" stroke-width="1.1"/>
<text x="227" y="203.1" font-size="11.5" text-anchor="middle" font-weight="normal" fill="#2a2a2a" textLength="21.2" lengthAdjust="spacingAndGlyphs" stroke="#2a2a2a" stroke-width="0.2">DOR</text>
<ellipse cx="276.3" cy="199" rx="24.6" ry="11.5" fill="url(#g50)" stroke="#4a2a3a" stroke-width="1.1"/>
<text x="276.3" y="203.1" font-size="11.5" text-anchor="middle" font-weight="normal" fill="#3a1e2a" textLength="43" lengthAdjust="spacingAndGlyphs" stroke="#3a1e2a" stroke-width="0.2">GATE-16</text>
<ellipse cx="324.5" cy="199" rx="21.8" ry="11.5" fill="url(#g51)" stroke="#2e4a48" stroke-width="1.1"/>
<text x="324.5" y="203.1" font-size="11.5" text-anchor="middle" font-weight="normal" fill="#2a2a2a" textLength="28.7" lengthAdjust="spacingAndGlyphs" stroke="#2a2a2a" stroke-width="0.2">VMP1</text>
<ellipse cx="227.4" cy="226.8" rx="23" ry="11.2" fill="url(#g52)" stroke="#2e4426" stroke-width="1.1"/>
<text x="227.4" y="230.9" font-size="11.5" text-anchor="middle" font-weight="normal" fill="#2a2a2a" textLength="42" lengthAdjust="spacingAndGlyphs" stroke="#2a2a2a" stroke-width="0.2">Atg2A/B</text>
<ellipse cx="276.8" cy="226.7" rx="21.5" ry="11.1" fill="url(#g53)" stroke="#40284a" stroke-width="1.1"/>
<text x="276.8" y="230.8" font-size="11.5" text-anchor="middle" font-weight="normal" fill="#2a2a2a" textLength="22.3" lengthAdjust="spacingAndGlyphs" stroke="#2a2a2a" stroke-width="0.2">Atg9</text>
<ellipse cx="324.7" cy="226.8" rx="22" ry="11.2" fill="url(#g54)" stroke="#6a4a28" stroke-width="1.1"/>
<text x="324.7" y="230.9" font-size="11.5" text-anchor="middle" font-weight="normal" fill="#2a2a2a" textLength="32.6" lengthAdjust="spacingAndGlyphs" stroke="#2a2a2a" stroke-width="0.2">DFCP1</text>
<ellipse cx="250" cy="254.7" rx="23.8" ry="11.4" fill="url(#g55)" stroke="#2e4426" stroke-width="1.1"/>
<text x="250" y="258.8" font-size="11.5" text-anchor="middle" font-weight="normal" fill="#2a2a2a" textLength="42" lengthAdjust="spacingAndGlyphs" stroke="#2a2a2a" stroke-width="0.2">WIPI1/2</text>
<ellipse cx="304.6" cy="254.7" rx="27.6" ry="11.4" fill="url(#g56)" stroke="#4a2a3a" stroke-width="1.1"/>
<text x="304.6" y="258.8" font-size="11.5" text-anchor="middle" font-weight="normal" fill="#3a1e2a" textLength="48" lengthAdjust="spacingAndGlyphs" stroke="#3a1e2a" stroke-width="0.2">GABARAP</text>
<ellipse cx="398.9" cy="184.8" rx="21.8" ry="11.1" fill="url(#g57)" stroke="#2c3448" stroke-width="1.1"/>
<text x="398.9" y="188.9" font-size="11.5" text-anchor="middle" font-weight="normal" fill="#232a48" textLength="32.4" lengthAdjust="spacingAndGlyphs" stroke="#232a48" stroke-width="0.2">Lamp1</text>
<ellipse cx="398.9" cy="210.9" rx="21.8" ry="11" fill="url(#g58)" stroke="#6a4a28" stroke-width="1.1"/>
<text x="398.9" y="215" font-size="11.5" text-anchor="middle" font-weight="normal" fill="#2a2a2a" textLength="24.6" lengthAdjust="spacingAndGlyphs" stroke="#2a2a2a" stroke-width="0.2">Rab7</text>
<ellipse cx="398.9" cy="238.8" rx="22" ry="11" fill="url(#g59)" stroke="#3a3028" stroke-width="1.1"/>
<text x="398.9" y="242.9" font-size="11.5" text-anchor="middle" font-weight="normal" fill="#2a2a2a" textLength="36.3" lengthAdjust="spacingAndGlyphs" stroke="#2a2a2a" stroke-width="0.2">UVRAG</text>
<ellipse cx="398.9" cy="265.2" rx="23.1" ry="11.4" fill="url(#g60)" stroke="#22465c" stroke-width="1.1"/>
<text x="398.9" y="269.3" font-size="11.5" text-anchor="middle" font-weight="normal" fill="#1a3452" textLength="38.7" lengthAdjust="spacingAndGlyphs" stroke="#1a3452" stroke-width="0.2">Rubicon</text>
<ellipse cx="542.8" cy="223.9" rx="22" ry="11.3" fill="url(#g61)" stroke="#5a4a28" stroke-width="1.1"/>
<text x="542.8" y="228" font-size="11.5" text-anchor="middle" font-weight="normal" fill="#2a2a2a" textLength="29" lengthAdjust="spacingAndGlyphs" stroke="#2a2a2a" stroke-width="0.2">Atg22</text>
<text x="131" y="362.7" font-size="11.5" text-anchor="start" font-weight="bold" fill="#262420" textLength="126.7" lengthAdjust="spacingAndGlyphs">Atg12 conjugation system</text>
<text x="131" y="433.9" font-size="11.5" text-anchor="start" font-weight="bold" fill="#262420" textLength="116.7" lengthAdjust="spacingAndGlyphs">LC3 conjugation system</text>
<ellipse cx="250.3" cy="380" rx="17.5" ry="8.6" fill="url(#g62)" stroke="#403830" stroke-width="1.1"/>
<text x="250.3" y="384.1" font-size="11.5" text-anchor="middle" font-weight="normal" fill="#2a2a2a" textLength="29.7" lengthAdjust="spacingAndGlyphs" stroke="#2a2a2a" stroke-width="0.2">Atg12</text>
<ellipse cx="255" cy="405" rx="17.5" ry="9" fill="url(#g63)" stroke="#403830" stroke-width="1.1"/>
<text x="255" y="409.1" font-size="11.5" text-anchor="middle" font-weight="normal" fill="#2a2a2a" textLength="22" lengthAdjust="spacingAndGlyphs" stroke="#2a2a2a" stroke-width="0.2">Atg5</text>
<line x1="264" y1="392.1" x2="314.5" y2="392.1" stroke="#2e2418" stroke-width="1.6"/>
<path d="M320,392.1 L313.5,395.3 L313.5,388.9 Z" fill="#2e2418"/>
<path d="M282,419 C282,402 290,392.1 306,392.1" fill="none" stroke="#2e2418" stroke-width="1.6"/>
<rect x="266" y="419" width="32" height="17.4" rx="7.5" fill="url(#g64)" stroke="#5a4028" stroke-width="1.1"/>
<text x="282" y="431.8" font-size="11.5" text-anchor="middle" font-weight="normal" fill="#2a2a2a" textLength="23" lengthAdjust="spacingAndGlyphs" stroke="#2a2a2a" stroke-width="0.2">Atg7</text>
<path d="M282.7,436.5 C282.7,454 290,462.6 306,462.6" fill="none" stroke="#2e2418" stroke-width="1.6"/>
<ellipse cx="296" cy="449" rx="9" ry="9" fill="url(#g65)" stroke="#403830" stroke-width="1.1"/>
<text x="296" y="453.1" font-size="11" text-anchor="middle" font-weight="normal" fill="#2a2a2a" textLength="14" lengthAdjust="spacingAndGlyphs" stroke="#2a2a2a" stroke-width="0.2">PE</text>
<ellipse cx="337.9" cy="385" rx="17.6" ry="9" fill="url(#g66)" stroke="#403830" stroke-width="1.1"/>
<text x="337.9" y="389.1" font-size="11.5" text-anchor="middle" font-weight="normal" fill="#2a2a2a" textLength="29.7" lengthAdjust="spacingAndGlyphs" stroke="#2a2a2a" stroke-width="0.2">Atg12</text>
<ellipse cx="350.8" cy="402.7" rx="17.5" ry="8.8" fill="url(#g67)" stroke="#403830" stroke-width="1.1"/>
<text x="350.8" y="406.8" font-size="11.5" text-anchor="middle" font-weight="normal" fill="#2a2a2a" textLength="22" lengthAdjust="spacingAndGlyphs" stroke="#2a2a2a" stroke-width="0.2">Atg5</text>
<rect x="369" y="371.05" width="35" height="18.5" rx="7" fill="url(#g68)" stroke="#403830" stroke-width="1.1"/>
<text x="386.5" y="384.4" font-size="11.5" text-anchor="middle" font-weight="normal" fill="#2a2a2a" textLength="28.7" lengthAdjust="spacingAndGlyphs" stroke="#2a2a2a" stroke-width="0.2">Atg16</text>
<line x1="360.4" y1="392" x2="412.5" y2="392" stroke="#2e2418" stroke-width="1.6"/>
<path d="M418,392 L411.5,395.2 L411.5,388.8 Z" fill="#2e2418"/>
<rect x="468.7" y="369.9" width="34" height="19.4" rx="7" fill="url(#g69)" stroke="#403830" stroke-width="1.1"/>
<text x="485.7" y="383.7" font-size="11.5" text-anchor="middle" font-weight="normal" fill="#2a2a2a" textLength="28.7" lengthAdjust="spacingAndGlyphs" stroke="#2a2a2a" stroke-width="0.2">Atg16</text>
<rect x="468.7" y="392.3" width="34" height="19" rx="7" fill="url(#g70)" stroke="#403830" stroke-width="1.1"/>
<text x="485.7" y="405.9" font-size="11.5" text-anchor="middle" font-weight="normal" fill="#2a2a2a" textLength="28.7" lengthAdjust="spacingAndGlyphs" stroke="#2a2a2a" stroke-width="0.2">Atg16</text>
<ellipse cx="436.3" cy="384.2" rx="16.8" ry="9.3" fill="url(#g71)" stroke="#403830" stroke-width="1.1"/>
<text x="436.3" y="388.3" font-size="11.5" text-anchor="middle" font-weight="normal" fill="#2a2a2a" textLength="29.7" lengthAdjust="spacingAndGlyphs" stroke="#2a2a2a" stroke-width="0.2">Atg12</text>
<rect x="451.4" y="380.4" width="34" height="18.6" rx="7" fill="url(#g72)" stroke="#403830" stroke-width="1.1"/>
<text x="468.4" y="393.8" font-size="11.5" text-anchor="middle" font-weight="normal" fill="#2a2a2a" textLength="28.7" lengthAdjust="spacingAndGlyphs" stroke="#2a2a2a" stroke-width="0.2">Atg16</text>
<ellipse cx="447.1" cy="402.4" rx="17.7" ry="9" fill="url(#g73)" stroke="#403830" stroke-width="1.1"/>
<text x="447.1" y="406.5" font-size="11.5" text-anchor="middle" font-weight="normal" fill="#2a2a2a" textLength="22" lengthAdjust="spacingAndGlyphs" stroke="#2a2a2a" stroke-width="0.2">Atg5</text>
<ellipse cx="524.5" cy="367.1" rx="17.6" ry="8.6" fill="url(#g74)" stroke="#403830" stroke-width="1.1"/>
<text x="524.5" y="371.2" font-size="11.5" text-anchor="middle" font-weight="normal" fill="#2a2a2a" textLength="29.7" lengthAdjust="spacingAndGlyphs" stroke="#2a2a2a" stroke-width="0.2">Atg12</text>
<ellipse cx="514.5" cy="384.2" rx="17.3" ry="9.3" fill="url(#g75)" stroke="#403830" stroke-width="1.1"/>
<text x="514.5" y="388.3" font-size="11.5" text-anchor="middle" font-weight="normal" fill="#2a2a2a" textLength="22" lengthAdjust="spacingAndGlyphs" stroke="#2a2a2a" stroke-width="0.2">Atg5</text>
<ellipse cx="524.5" cy="424.3" rx="17.6" ry="8.6" fill="url(#g76)" stroke="#403830" stroke-width="1.1"/>
<text x="524.5" y="428.4" font-size="11.5" text-anchor="middle" font-weight="normal" fill="#2a2a2a" textLength="29.7" lengthAdjust="spacingAndGlyphs" stroke="#2a2a2a" stroke-width="0.2">Atg12</text>
<ellipse cx="514.5" cy="406.6" rx="17.3" ry="9.3" fill="url(#g77)" stroke="#403830" stroke-width="1.1"/>
<text x="514.5" y="410.7" font-size="11.5" text-anchor="middle" font-weight="normal" fill="#2a2a2a" textLength="22" lengthAdjust="spacingAndGlyphs" stroke="#2a2a2a" stroke-width="0.2">Atg5</text>
<path d="M446.8,416 C447,440 460,455.7 481,455.7" fill="none" stroke="#2e2418" stroke-width="1.6"/>
<path d="M487,455.7 L480.5,458.9 L480.5,452.5 Z" fill="#2e2418"/>
<ellipse cx="171" cy="462.8" rx="21" ry="9.8" fill="url(#g78)" stroke="#403830" stroke-width="1.1"/>
<text x="171" y="466.9" font-size="11.5" text-anchor="middle" font-weight="normal" fill="#4a1e2e" textLength="18.9" lengthAdjust="spacingAndGlyphs" stroke="#4a1e2e" stroke-width="0.2">LC3</text>
<rect x="198.8" y="442.2" width="33" height="17" rx="7.5" fill="url(#g79)" stroke="#403830" stroke-width="1.1"/>
<text x="215.3" y="454.8" font-size="11.5" text-anchor="middle" font-weight="normal" fill="#2a2a2a" textLength="22.3" lengthAdjust="spacingAndGlyphs" stroke="#2a2a2a" stroke-width="0.2">Atg4</text>
<line x1="195.2" y1="462.8" x2="230" y2="462.8" stroke="#2e2418" stroke-width="1.6"/>
<path d="M235.5,462.8 L229,466 L229,459.6 Z" fill="#2e2418"/>
<ellipse cx="256.7" cy="462.8" rx="20" ry="9.4" fill="url(#g80)" stroke="#403830" stroke-width="1.1"/>
<text x="256.7" y="466.9" font-size="11.5" text-anchor="middle" font-weight="normal" fill="#4a1e2e" textLength="25.6" lengthAdjust="spacingAndGlyphs" stroke="#4a1e2e" stroke-width="0.2">LC3-I</text>
<line x1="278.6" y1="462.6" x2="314.5" y2="462.6" stroke="#2e2418" stroke-width="1.6"/>
<path d="M320,462.6 L313.5,465.8 L313.5,459.4 Z" fill="#2e2418"/>
<ellipse cx="340.7" cy="462.7" rx="19.7" ry="9.8" fill="url(#g81)" stroke="#403830" stroke-width="1.1"/>
<text x="340.7" y="466.8" font-size="11.5" text-anchor="middle" font-weight="normal" fill="#4a1e2e" textLength="31.5" lengthAdjust="spacingAndGlyphs" stroke="#4a1e2e" stroke-width="0.2">LC3-II</text>
<ellipse cx="359.3" cy="448.4" rx="9.2" ry="9.2" fill="url(#g82)" stroke="#403830" stroke-width="1.1"/>
<text x="359.3" y="452.5" font-size="11" text-anchor="middle" font-weight="normal" fill="#2a2a2a" textLength="14" lengthAdjust="spacingAndGlyphs" stroke="#2a2a2a" stroke-width="0.2">PE</text>
<line x1="362.8" y1="462.8" x2="481.5" y2="462.8" stroke="#2e2418" stroke-width="1.6"/>
<path d="M487,462.8 L480.5,466 L480.5,459.6 Z" fill="#2e2418"/>
<text x="490.4" y="466.2" font-size="11.5" text-anchor="start" font-weight="normal" fill="#2a2a28" textLength="76.4" lengthAdjust="spacingAndGlyphs" stroke="#2a2a28" stroke-width="0.2">Autophagosome</text></svg></body></html>
